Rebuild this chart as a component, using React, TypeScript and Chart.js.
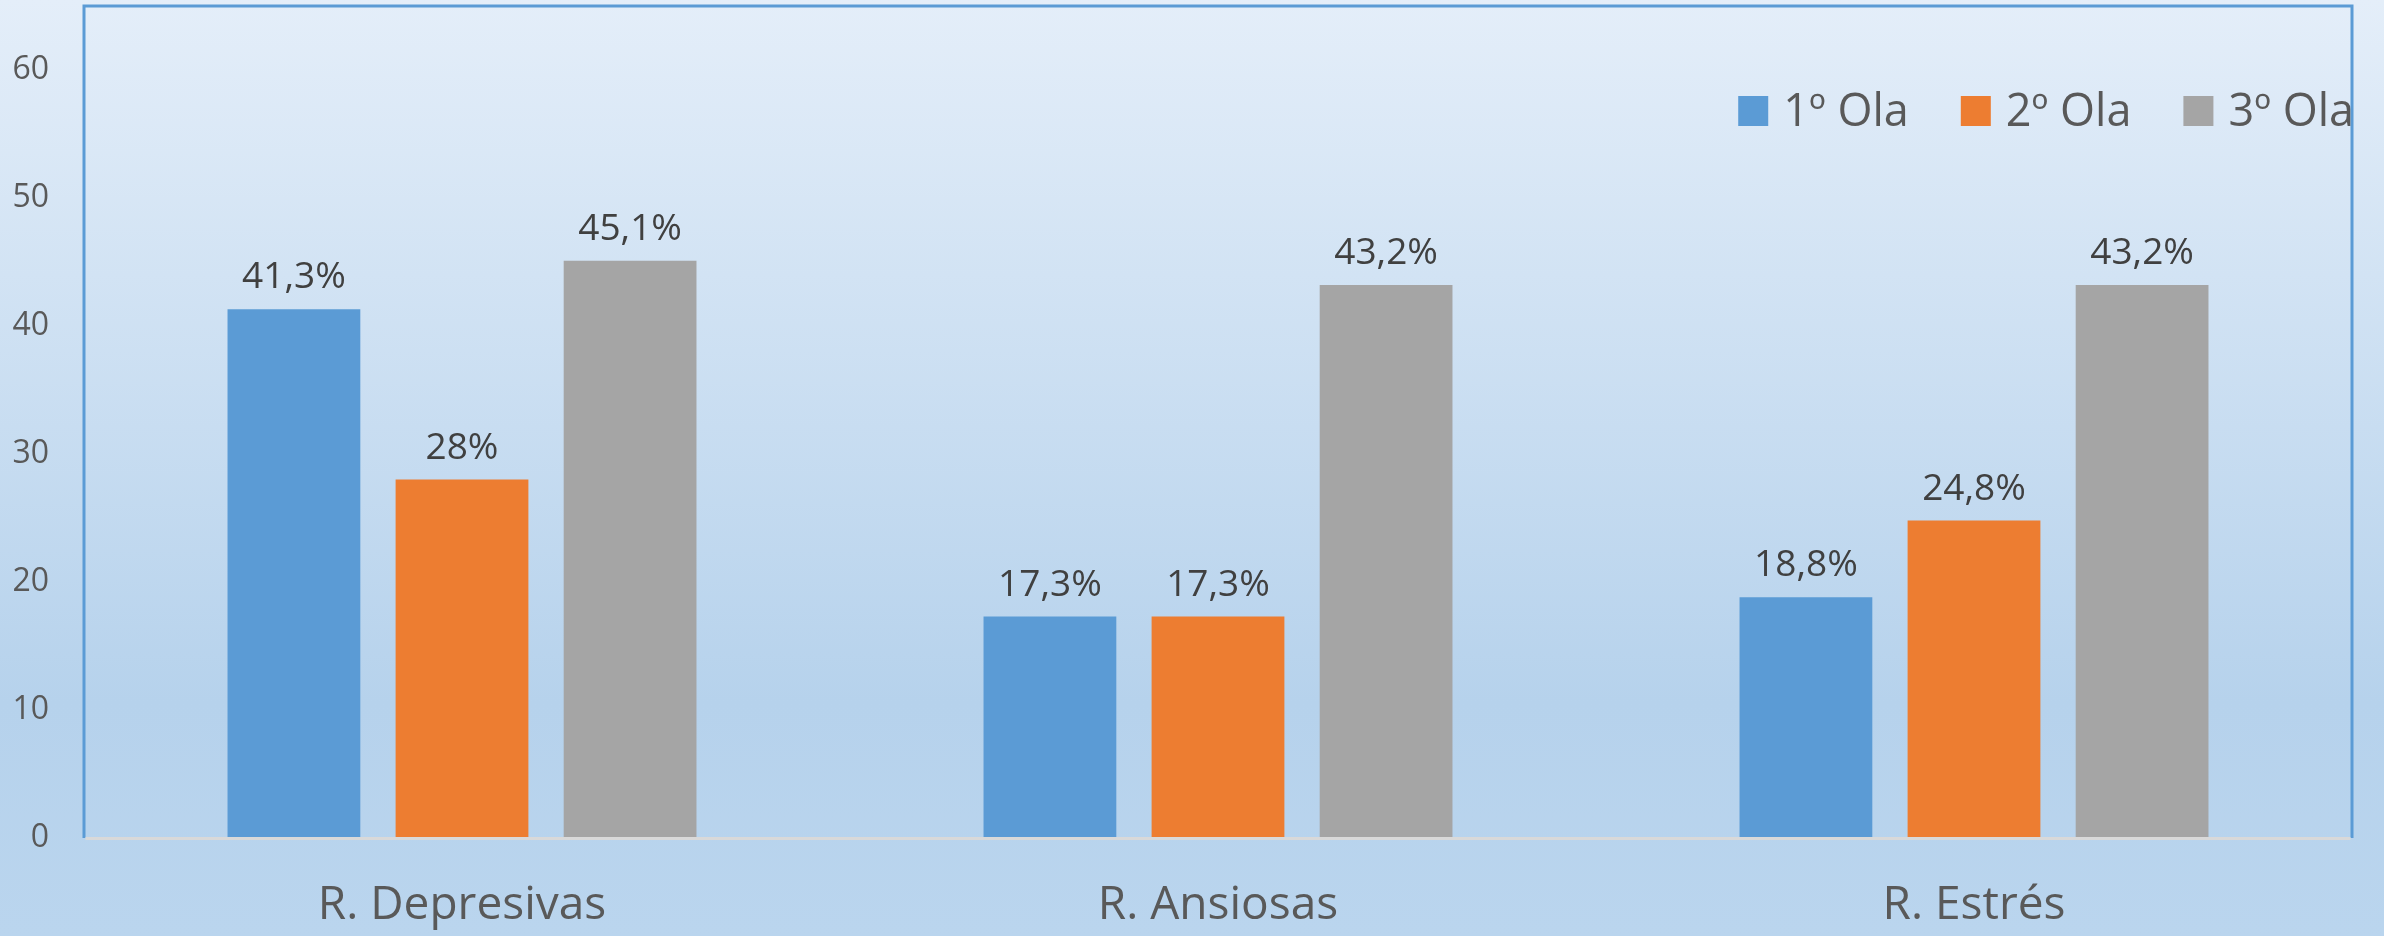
import React, { useEffect, useRef } from "react";
import { Chart, registerables } from "chart.js";

Chart.register(...registerables);

const categories = ["R. Depresivas", "R. Ansiosas", "R. Estrés"];
const seriesNames = ["1º Ola", "2º Ola", "3º Ola"];
const ola1 = [41.3, 17.3, 18.8];
const ola2 = [28, 17.3, 24.8];
const ola3 = [45.1, 43.2, 43.2];
const seriesColors = ["#5b9bd5", "#ed7d31", "#a5a5a5"];
const yTicks = [0, 10, 20, 30, 40, 50, 60];

const FONT = "'Open Sans', sans-serif";

const backgroundPlugin = {
  id: "bgGradient",
  beforeDraw(chart: any) {
    const { ctx, width, height } = chart;
    const g = ctx.createLinearGradient(0, 0, 0, height);
    g.addColorStop(0, "#e4eef9");
    g.addColorStop(0.75, "#b6d2ec");
    g.addColorStop(1, "#bad5ee");
    ctx.save();
    ctx.fillStyle = g;
    ctx.fillRect(0, 0, width, height);
    ctx.restore();
  },
};

const borderPlugin = {
  id: "plotBorder",
  afterDatasetsDraw(chart: any) {
    const { ctx, chartArea } = chart;
    const { left, right, top, bottom } = chartArea;
    ctx.save();
    ctx.strokeStyle = "#5b9bd5";
    ctx.lineWidth = 3;
    ctx.beginPath();
    ctx.moveTo(left, bottom);
    ctx.lineTo(left, top);
    ctx.lineTo(right, top);
    ctx.lineTo(right, bottom);
    ctx.stroke();
    ctx.strokeStyle = "#d9d9d9";
    ctx.beginPath();
    ctx.moveTo(left + 1.5, bottom + 0.5);
    ctx.lineTo(right - 1.5, bottom + 0.5);
    ctx.stroke();
    ctx.restore();
  },
};

const dataLabelPlugin = {
  id: "valueLabels",
  afterDatasetsDraw(chart: any) {
    const { ctx } = chart;
    ctx.save();
    ctx.font = `37px ${FONT}`;
    ctx.fillStyle = "#404040";
    ctx.textAlign = "center";
    ctx.textBaseline = "alphabetic";
    chart.data.datasets.forEach((ds: any, i: number) => {
      const meta = chart.getDatasetMeta(i);
      meta.data.forEach((bar: any, j: number) => {
        const v = ds.data[j];
        const txt = String(v).replace(".", ",") + "%";
        ctx.fillText(txt, bar.x, bar.y - 21);
      });
    });
    ctx.restore();
  },
};

const legendPlugin = {
  id: "customLegend",
  afterDraw(chart: any) {
    const { ctx, chartArea } = chart;
    const box = 30;
    const boxGap = 15;
    const itemGap = 52;
    ctx.save();
    ctx.font = `45px ${FONT}`;
    const items = chart.data.datasets.map((ds: any) => ({
      label: ds.label,
      color: ds.backgroundColor,
      w: ctx.measureText(ds.label).width,
    }));
    const total =
      items.reduce((s: number, it: any) => s + box + boxGap + it.w, 0) +
      itemGap * (items.length - 1);
    let x = chartArea.right + 2 - total;
    const cy = chartArea.top + 105;
    ctx.textBaseline = "middle";
    ctx.textAlign = "left";
    items.forEach((it: any) => {
      ctx.fillStyle = it.color;
      ctx.fillRect(x, cy - box / 2, box, box);
      x += box + boxGap;
      ctx.fillStyle = "#595959";
      ctx.fillText(it.label, x, cy + 2);
      x += it.w + itemGap;
    });
    ctx.restore();
  },
};

export default function App() {
  const ref = useRef<HTMLCanvasElement | null>(null);

  useEffect(() => {
    document.body.style.margin = "0";
    const canvas = ref.current;
    if (!canvas) return;
    const datasets = [ola1, ola2, ola3].map((d, i) => ({
      label: seriesNames[i],
      data: d,
      backgroundColor: seriesColors[i],
      borderWidth: 0,
      categoryPercentage: 0.667,
      barPercentage: 0.79,
    }));
    const chart = new Chart(canvas, {
      type: "bar",
      data: { labels: categories, datasets },
      options: {
        responsive: false,
        animation: false,
        maintainAspectRatio: false,
        layout: { padding: { left: 0, right: 32, top: 6, bottom: 0 } },
        plugins: {
          legend: { display: false },
          tooltip: { enabled: false },
        },
        scales: {
          x: {
            grid: { display: false, drawTicks: false },
            border: { display: false },
            ticks: {
              color: "#595959",
              font: { family: FONT, size: 46 },
              padding: 40,
            },
            afterFit(scale: any) {
              scale.height = 98;
              scale.paddingLeft = 0;
              scale.paddingRight = 0;
            },
          },
          y: {
            min: 0,
            max: 65,
            grid: { display: false, drawTicks: false },
            border: { display: false },
            afterBuildTicks(scale: any) {
              scale.ticks = yTicks.map((v) => ({ value: v }));
            },
            ticks: {
              color: "#595959",
              font: { family: FONT, size: 32 },
              padding: 35,
            },
            afterFit(scale: any) {
              scale.width = 84;
              scale.paddingTop = 0;
              scale.paddingBottom = 0;
            },
          },
        },
      },
      plugins: [backgroundPlugin, borderPlugin, dataLabelPlugin, legendPlugin],
    });
    return () => chart.destroy();
  }, []);

  return (
    <canvas
      ref={ref}
      width={2384}
      height={936}
      style={{ display: "block", width: 2384, height: 936 }}
    />
  );
}
